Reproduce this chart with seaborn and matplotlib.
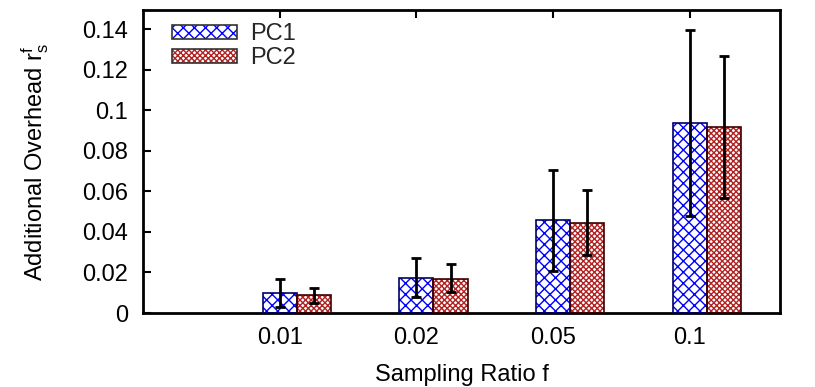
import numpy as np
import pandas as pd
import matplotlib
matplotlib.use("Agg")
import matplotlib.pyplot as plt
import seaborn as sns
from matplotlib.ticker import FuncFormatter
from matplotlib.patches import Rectangle, Patch
from matplotlib.legend_handler import HandlerTuple

categories = ["0.01", "0.02", "0.05", "0.1"]
series = ["PC1", "PC2"]
pc1_mean = [0.0100, 0.0174, 0.0457, 0.0938]
pc1_low = [0.0031, 0.0077, 0.0209, 0.0478]
pc1_high = [0.0166, 0.0270, 0.0705, 0.1398]
pc2_mean = [0.0087, 0.0169, 0.0445, 0.0917]
pc2_low = [0.0051, 0.0102, 0.0284, 0.0568]
pc2_high = [0.0125, 0.0242, 0.0605, 0.1267]

sns.set_theme(style="white")
plt.rcParams["font.family"] = ["Liberation Sans", "DejaVu Sans"]
plt.rcParams["mathtext.fontset"] = "custom"
plt.rcParams["mathtext.rm"] = "Liberation Sans"
plt.rcParams["mathtext.it"] = "Liberation Sans"
plt.rcParams["hatch.linewidth"] = 1.0

FS = 17

df = pd.DataFrame({
    "f": categories * 2,
    "series": [series[0]] * 4 + [series[1]] * 4,
    "value": pc1_mean + pc2_mean,
    "low": pc1_low + pc2_low,
    "high": pc1_high + pc2_high,
})

fig = plt.figure(figsize=(8.15, 3.87), dpi=100)
ax = fig.add_axes([0.1755, 0.1912, 0.957 - 0.1755, 0.974 - 0.1912])

hatch_colors = {"PC1": "#0000ff", "PC2": "#b22222"}
hatches = {"PC1": "xxx", "PC2": "xxxxxx"}
edge_colors = {"PC1": "#000066", "PC2": "#400000"}

sns.barplot(data=df, x="f", y="value", hue="series", order=categories,
            hue_order=series, width=0.5, dodge=True, errorbar=None,
            palette={"PC1": "white", "PC2": "white"}, ax=ax, legend=False,
            saturation=1)

for container, s in zip(ax.containers, series):
    for p in container.patches:
        p.set_facecolor("white")
        p.set_hatch(hatches[s])
        p.set_edgecolor(hatch_colors[s])
        p.set_linewidth(0)
        r = Rectangle(p.get_xy(), p.get_width(), p.get_height(), fill=False,
                      edgecolor=edge_colors[s], linewidth=1.2, zorder=3)
        ax.add_patch(r)

# error bars
for container, s in zip(ax.containers, series):
    sub = df[df["series"] == s]
    xs = [p.get_x() + p.get_width() / 2 for p in container.patches]
    vals = sub["value"].to_numpy()
    lo = vals - sub["low"].to_numpy()
    hi = sub["high"].to_numpy() - vals
    ax.errorbar(xs, vals, yerr=[lo, hi], fmt="none", ecolor="black",
                elinewidth=2, capsize=3.5, capthick=2, zorder=4)

# legend
handles = []
for s in series:
    hp = Patch(facecolor="white", edgecolor=hatch_colors[s], hatch=hatches[s],
               linewidth=0)
    op = Patch(facecolor="none", edgecolor="#333333", linewidth=1.2)
    handles.append((hp, op))
leg = ax.legend(handles, series, loc="upper left", frameon=False,
                handler_map={tuple: HandlerTuple(ndivide=1, pad=0)},
                handlelength=2.75, handleheight=0.53, fontsize=FS,
                bbox_to_anchor=(0.025, 1.0), borderaxespad=0.15,
                labelspacing=0.1, handletextpad=0.55)

xt = [i - 0.125 for i in range(len(categories))]
ax.set_xticks(xt)
ax.set_xticklabels(categories, fontsize=FS)
ax.set_xlim(-1.125, 3.66 - 0.125)
ax.set_ylim(0, 0.1494)
ax.set_yticks([0, 0.02, 0.04, 0.06, 0.08, 0.1, 0.12, 0.14])
ax.yaxis.set_major_formatter(FuncFormatter(lambda v, p: "%g" % round(v, 4)))
ax.tick_params(axis="y", labelsize=FS, direction="in", length=6, width=1.5,
               left=True, right=False, pad=11, colors="black")
ax.tick_params(axis="x", labelsize=FS, direction="in", length=6, width=1.5,
               top=True, bottom=False, pad=10, colors="black")
for sp in ax.spines.values():
    sp.set_visible(True)
    sp.set_color("black")
    sp.set_linewidth(2)
ax.set_xlabel("Sampling Ratio f", fontsize=FS, color="black", labelpad=11)
ax.set_ylabel(r"Additional Overhead $\mathregular{r_s^f}$", fontsize=FS,
              color="black", labelpad=22)

fig.savefig("out.png", dpi=100)
